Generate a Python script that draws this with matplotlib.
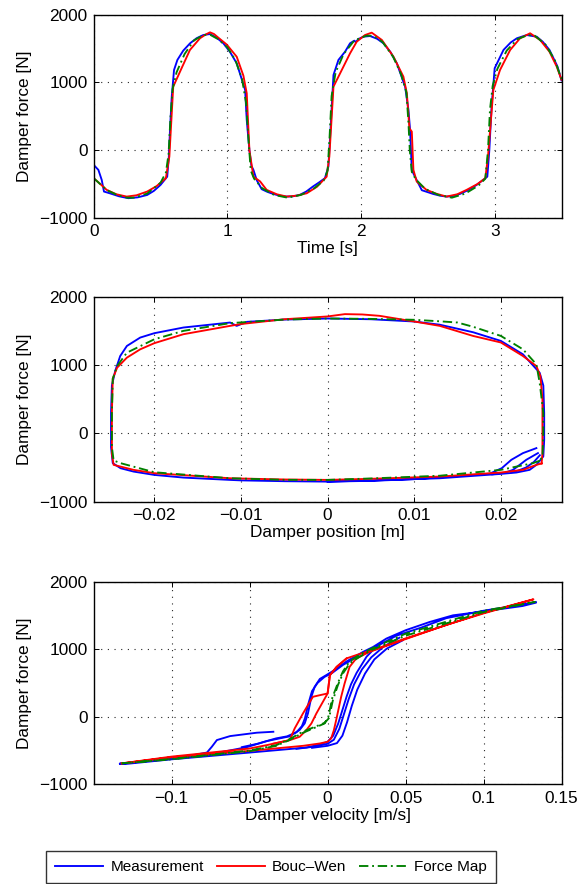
import matplotlib
matplotlib.use("Agg")
import matplotlib.pyplot as plt
from matplotlib.lines import Line2D

# ---------------- data ----------------
# Panel 1: force vs time
t_meas = [0.000,0.035,0.060,0.077,0.120,0.190,0.260,0.330,0.400,0.450,0.500,0.550,0.562,0.572,0.584,0.601,0.626,0.670,0.721,0.770,
          0.820,0.870,0.920,0.970,1.020,1.070,1.133,1.145,1.165,1.180,1.195,1.220,1.257,1.300,1.344,1.390,1.440,1.490,1.540,1.590,
          1.640,1.690,1.730,1.756,1.773,1.794,1.831,1.881,1.918,1.950,1.960,1.980,2.018,2.068,2.120,2.168,2.220,2.268,2.330,2.355,
          2.367,2.380,2.417,2.455,2.540,2.590,2.640,2.690,2.740,2.800,2.865,2.945,2.960,2.977,3.000,3.066,3.120,3.166,3.240,3.315,
          3.360,3.410,3.470,3.500]
f_meas = [-217,-290,-438,-610,-635,-680,-708,-695,-660,-600,-512,-390,-100,350,790,1184,1332,1470,1578,1653,
          1700,1715,1660,1578,1450,1283,889,447,0,-230,-290,-443,-575,-615,-645,-670,-684,-680,-660,-610,
          -536,-470,-413,-241,350,1110,1332,1455,1578,1617,1595,1640,1676,1685,1645,1578,1450,1283,938,594,
          300,-295,-443,-590,-645,-670,-684,-675,-645,-590,-512,-390,0,645,1210,1480,1590,1652,1700,1675,
          1600,1480,1235,1030]

t_bw = [0.000,0.050,0.097,0.170,0.247,0.320,0.400,0.470,0.540,0.566,0.595,0.646,0.720,0.795,0.840,0.870,0.900,0.930,0.995,1.070,
        1.120,1.145,1.165,1.195,1.245,1.294,1.370,1.444,1.520,1.594,1.670,1.743,1.763,1.794,1.856,1.918,1.968,2.030,2.080,2.156,
        2.243,2.317,2.343,2.362,2.380,2.392,2.417,2.490,2.560,2.640,2.720,2.790,2.870,2.930,2.950,2.990,3.040,3.116,3.190,3.265,
        3.340,3.410,3.464,3.500]
f_bw = [-413,-500,-585,-650,-684,-665,-610,-530,-413,-93,938,1160,1480,1652,1710,1740,1715,1665,1560,1380,
        1100,840,0,-390,-460,-585,-650,-684,-670,-635,-540,-390,-93,938,1184,1430,1602,1700,1735,1627,
        1380,1086,840,324,275,-290,-463,-585,-640,-684,-650,-585,-500,-413,-93,888,1184,1480,1652,1726,
        1627,1454,1235,1040]

t_fm = [0.000,0.100,0.180,0.250,0.300,0.400,0.500,0.540,0.560,0.575,0.590,0.620,0.680,0.750,0.820,0.870,0.930,1.000,1.060,1.110,
        1.140,1.160,1.175,1.200,1.260,1.350,1.450,1.550,1.650,1.720,1.750,1.765,1.780,1.810,1.870,1.950,2.040,2.090,2.160,2.240,
        2.300,2.340,2.355,2.365,2.380,2.410,2.480,2.580,2.680,2.780,2.880,2.930,2.950,2.965,2.985,3.020,3.090,3.170,3.250,3.300,
        3.380,3.450,3.500]
f_fm = [-413,-590,-665,-700,-700,-640,-480,-330,-60,500,900,1150,1420,1620,1700,1705,1640,1520,1330,1050,
        700,100,-300,-420,-560,-660,-700,-660,-560,-450,-300,200,800,1150,1420,1620,1690,1690,1600,1380,
        1120,850,400,0,-320,-430,-570,-660,-700,-640,-520,-420,0,600,950,1200,1470,1640,1700,1690,
        1560,1330,1050]

# Panel 2: force vs position
x_meas = [0.0241,0.02255,0.02121,0.0201,0.01871,0.015,0.010,0.005,0.000,-0.005,-0.010,-0.01126,-0.01664,-0.020,-0.0224,-0.0239,-0.0248,
          -0.0250,-0.0250,-0.0249,-0.02452,-0.02394,-0.02317,-0.02163,-0.020,-0.01664,-0.01126,-0.0105,-0.0093,-0.005,0.000,0.005,0.010,
          0.01295,0.01679,0.020,0.02255,0.02448,0.0249,0.0250,0.0250,0.0249,0.0241,0.02332,0.02179,0.020,0.01295,0.005,0.000]
fx_meas = [-216,-289,-387,-510,-590,-625,-670,-695,-706,-700,-688,-681,-647,-608,-559,-510,-436,
           -200,300,700,912,1132,1279,1402,1466,1549,1622,1573,1632,1665,1681,1670,1637,
           1590,1480,1353,1157,887,700,300,-100,-338,-461,-534,-573,-593,-657,-690,-706]
x_meas2 = [0.02428,0.02293,0.02217,0.0214,0.0205,0.019]
fx_meas2 = [-289,-387,-461,-534,-575,-600]
x_meas3 = [0.0245,0.0238,0.0229,0.0220,0.0212]
fx_meas3 = [-320,-420,-500,-545,-570]

x_bw = [0.0247,0.0241,0.02255,0.020,0.01295,0.005,0.000,-0.005,-0.01126,-0.020,-0.0224,-0.0247,-0.0249,-0.0249,-0.0248,-0.0243,
        -0.02317,-0.02163,-0.020,-0.01664,-0.01126,-0.010,-0.005,0.000,0.002,0.004,0.006,0.010,0.01295,0.01679,0.020,0.02255,
        0.0241,0.02456,0.0248,0.0248,0.0248,0.0247]
fx_bw = [-440,-461,-534,-573,-632,-665,-681,-675,-657,-583,-534,-461,-300,300,800,961,
         1108,1230,1320,1451,1573,1600,1670,1711,1745,1740,1720,1637,1573,1426,1330,1132,
         985,838,500,0,-300,-440]

x_fm = [0.0245,0.0237,0.020,0.01295,0.005,0.000,-0.005,-0.01126,-0.020,-0.0239,-0.0247,-0.0249,-0.0249,-0.0248,-0.0243,-0.02317,
        -0.020,-0.01664,-0.01126,-0.005,0.000,0.005,0.010,0.01295,0.015,0.01679,0.020,0.02255,0.0241,0.02448,0.0249,0.0249,
        0.0248,0.0245]
fx_fm = [-400,-436,-534,-620,-660,-681,-680,-657,-569,-436,-397,-200,300,800,985,1181,
         1377,1500,1613,1665,1681,1675,1662,1640,1622,1560,1426,1230,1010,740,300,0,
         -338,-400]

# Panel 3: force vs velocity
v_meas = [-0.0348,-0.0454,-0.0625,-0.0710,-0.0742,-0.0774,-0.090,-0.100,-0.120,-0.1333,
          -0.130,-0.100,-0.050,-0.0134,-0.0049,0.000,0.0036,0.0068,0.0095,0.0122,0.015,0.0186,0.025,0.0313,0.0441,0.060,0.0761,0.085,
          0.100,0.1188,0.1337,0.1337,0.125,0.100,0.0804,0.0655,0.050,0.0377,0.0292,0.0228,0.0122,0.0036,-0.0006,-0.005,-0.0083,
          -0.0104,-0.0126,-0.0147,-0.018,-0.0243,-0.0307,-0.039,-0.0518,-0.0731,-0.100,-0.133]
fv_meas = [-222,-236,-286,-345,-443,-530,-585,-616,-665,-695,
           -700,-630,-530,-455,-410,-370,-280,-100,100,300,480,650,890,1040,1200,1320,1460,1500,
           1570,1640,1700,1690,1640,1560,1502,1404,1281,1158,1034,961,820,680,620,560,443,
           296,49,-99,-197,-290,-320,-360,-450,-545,-620,-695]
v_meas_b = [-0.020,-0.008,0.000,0.004,0.0075,0.0105,0.0135,0.017,0.022,0.028,0.036,0.046]
fv_meas_b = [-475,-440,-400,-340,-180,40,260,480,700,880,1040,1170]
v_meas_c = [-0.010,0.000,0.006,0.0095,0.0125,0.0155,0.019,0.024,0.030,0.038,0.048]
fv_meas_c = [-460,-430,-390,-280,-80,160,400,640,850,1010,1130]
v_meas_d = [0.020,0.010,0.003,-0.002,-0.0065,-0.0100,-0.0125,-0.0145,-0.0165,-0.020,-0.026,-0.033,-0.045,-0.055]
fv_meas_d = [900,770,650,590,500,380,180,-20,-140,-230,-290,-320,-400,-450]

v_bw = [-0.132,-0.100,-0.050,-0.0156,-0.0049,0.000,0.0023,0.004,0.0055,0.0087,0.0109,0.0141,0.0183,0.0269,0.050,0.0761,0.100,0.132,
        0.100,0.050,0.0292,0.0186,0.0122,0.0058,0.0015,0.000,-0.0049,-0.0094,-0.0158,-0.0211,-0.0243,-0.039,-0.050,-0.100,-0.132]
fv_bw = [-690,-600,-505,-430,-395,-370,-320,-200,-49,296,493,739,862,961,1150,1360,1530,1739,
         1540,1160,990,915,865,739,616,345,320,296,49,-172,-345,-420,-470,-590,-690]
v_bw_b = [0.0122,0.0058,0.0015,0.000,-0.003,-0.0072,-0.0104,-0.0136,-0.0179,-0.0241,-0.035]
fv_bw_b = [865,739,616,345,222,49,-99,-197,-296,-345,-400]

v_fm = [-0.132,-0.100,-0.050,-0.0328,-0.0243,-0.0158,-0.0072,-0.0019,0.0009,0.0034,0.0066,0.0098,0.0141,0.0205,0.0269,0.050,
        0.100,0.133,0.100,0.050,0.030,0.0205,0.0141,0.0098,0.0066,0.003,0.0005,-0.002,-0.008,-0.016,-0.025,-0.033,-0.050,-0.100,-0.132]
fv_fm = [-690,-625,-500,-420,-330,-220,-140,-90,-20,246,468,640,788,887,975,1200,
         1550,1700,1570,1230,1030,920,820,670,500,280,0,-100,-160,-240,-350,-430,-510,-630,-690]

series_names = ["Measurement", "Bouc\u2013Wen", "Force Map"]
yticks = [-1000, 0, 1000, 2000]
ytick_labels = ["\u22121000", "0", "1000", "2000"]
xticks_t = [0, 1, 2, 3]
xtick_labels_t = ["0", "1", "2", "3"]
xticks_x = [-0.02, -0.01, 0, 0.01, 0.02]
xtick_labels_x = ["\u22120.02", "\u22120.01", "0", "0.01", "0.02"]
xticks_v = [-0.1, -0.05, 0, 0.05, 0.1, 0.15]
xtick_labels_v = ["\u22120.1", "\u22120.05", "0", "0.05", "0.1", "0.15"]

# ---------------- styling ----------------
plt.rcParams['font.family'] = ['Liberation Sans', 'DejaVu Sans']
C_M, C_B, C_F = '#0000ff', '#ff0000', '#008000'
LW = 1.35
FM_LS = (0, (5, 2, 1, 2))
FS = 12.4

fig = plt.figure(figsize=(5.86, 8.84), dpi=100)
W = 586.0; H = 884.0
def add_ax(l, r, t, b):
    return fig.add_axes([l / W, 1 - b / H, (r - l) / W, (b - t) / H])

ax1 = add_ax(93.7, 561.5, 14.7, 218.0)
ax2 = add_ax(93.7, 561.5, 296.7, 501.7)
ax3 = add_ax(93.7, 561.5, 581.7, 784.3)

def style(ax, xt, xtl, xlim, xlabel):
    ax.set_xlim(*xlim)
    ax.set_ylim(-1000, 2000)
    ax.set_xticks(xt)
    ax.set_xticklabels(xtl)
    ax.set_yticks(yticks)
    ax.set_yticklabels(ytick_labels)
    ax.grid(True, color='0.15', linestyle=(0, (1, 5)), linewidth=0.8)
    ax.tick_params(direction='in', top=True, right=True, length=3.6, width=0.7,
                   labelsize=FS, pad=4.5)
    for s in ax.spines.values():
        s.set_linewidth(1.0)
    ax.set_xlabel(xlabel, fontsize=FS, labelpad=1.5)
    ax.set_ylabel("Damper force [N]", fontsize=FS, labelpad=5)

ax1.plot(t_meas, f_meas, color=C_M, lw=LW)
ax1.plot(t_bw, f_bw, color=C_B, lw=LW)
ax1.plot(t_fm, f_fm, color=C_F, lw=LW, linestyle=FM_LS)
style(ax1, xticks_t, xtick_labels_t, (0, 3.5), "Time [s]")

ax2.plot(x_meas, fx_meas, color=C_M, lw=LW)
ax2.plot(x_meas2, fx_meas2, color=C_M, lw=LW)
ax2.plot(x_meas3, fx_meas3, color=C_M, lw=LW)
ax2.plot(x_bw, fx_bw, color=C_B, lw=LW)
ax2.plot(x_fm, fx_fm, color=C_F, lw=LW, linestyle=FM_LS)
style(ax2, xticks_x, xtick_labels_x, (-0.027, 0.027), "Damper position [m]")

ax3.plot(v_meas, fv_meas, color=C_M, lw=LW)
ax3.plot(v_meas_b, fv_meas_b, color=C_M, lw=LW)
ax3.plot(v_meas_c, fv_meas_c, color=C_M, lw=LW)
ax3.plot(v_meas_d, fv_meas_d, color=C_M, lw=LW)
ax3.plot(v_bw, fv_bw, color=C_B, lw=LW)
ax3.plot(v_bw_b, fv_bw_b, color=C_B, lw=LW)
ax3.plot(v_fm, fv_fm, color=C_F, lw=LW, linestyle=FM_LS)
style(ax3, xticks_v, xtick_labels_v, (-0.15, 0.15), "Damper velocity [m/s]")

handles = [Line2D([], [], color=C_M, lw=LW),
           Line2D([], [], color=C_B, lw=LW),
           Line2D([], [], color=C_F, lw=LW, linestyle=FM_LS)]
leg = fig.legend(handles, series_names, loc='center', bbox_to_anchor=(271 / W, 1 - 867 / H),
                 ncol=3, frameon=True, fancybox=False, edgecolor='k', fontsize=11,
                 handlelength=3.15, handletextpad=0.45, columnspacing=0.85, borderpad=0.6)
leg.get_frame().set_linewidth(1.0)

fig.savefig("out.png", dpi=100)
